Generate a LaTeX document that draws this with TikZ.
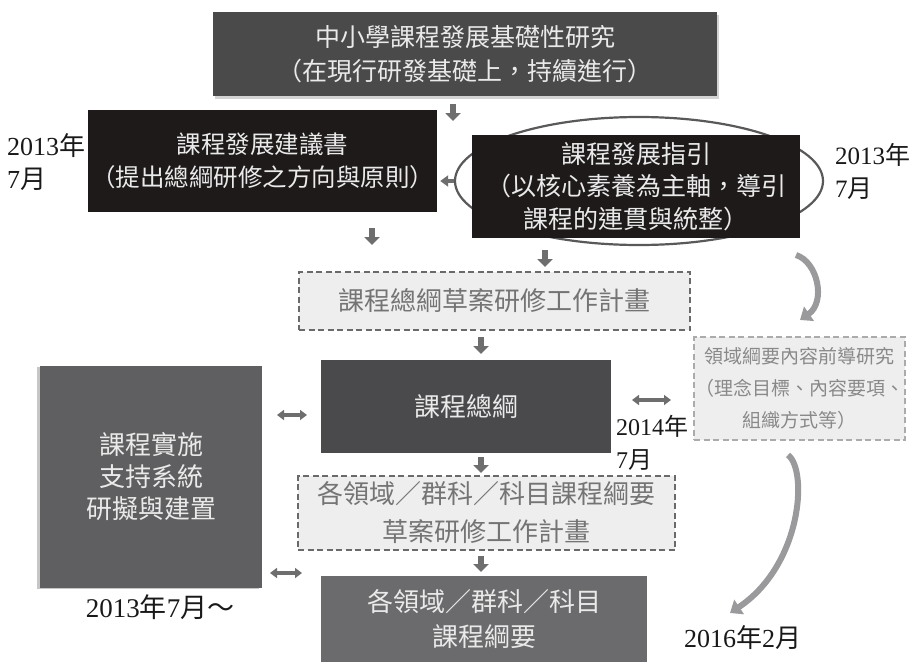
\documentclass[tikz,border=0pt]{standalone}
\usepackage{fontspec}
\setmainfont{Noto Sans CJK TC}
\newfontfamily\tms{Liberation Serif}
\usetikzlibrary{arrows.meta,shapes.geometric,shadows}
\definecolor{topfill}{HTML}{4A4A4A}
\definecolor{blackfill}{HTML}{1E1A1A}
\definecolor{genfill}{HTML}{4A4A4D}
\definecolor{supfill}{HTML}{5F5F61}
\definecolor{domfill}{HTML}{6B6B6D}
\definecolor{boxtext}{HTML}{EAEAEA}
\definecolor{dashtext}{HTML}{747474}
\definecolor{dashline}{HTML}{6A6A6A}
\definecolor{lightdash}{HTML}{ABABAB}
\definecolor{dashfill}{HTML}{EEEEEE}
\definecolor{arrowgray}{HTML}{6E6E6E}
\definecolor{curvegray}{HTML}{9A9A9C}
\begin{document}
\begin{tikzpicture}[x=1pt,y=-1pt,
  darkbox/.style={rectangle, inner sep=0pt, align=center, text=boxtext,
    font={\fontsize{25}{34}\selectfont}},
  dashbox/.style={rectangle, inner sep=0pt, align=center, fill=dashfill,
    draw=dashline, line width=2pt, dash pattern=on 6pt off 3.5pt, text=dashtext,
    font={\fontsize{26}{37}\selectfont}},
  datelbl/.style={inner sep=0pt, align=left, text=black!90,
    font={\fontsize{24}{33}\selectfont}},
  downarr/.style={draw=arrowgray, line width=6pt, -{Triangle[length=8pt,width=15pt]}, arrowgray},
  dblarr/.style={draw=arrowgray, line width=3.5pt, {Triangle[length=7pt,width=10pt]}-{Triangle[length=7pt,width=10pt]}, arrowgray},
  leftarr/.style={draw=arrowgray, line width=4pt, {Triangle[length=8pt,width=11pt]}-, arrowgray},
  curvearr/.style={draw=curvegray, line width=6pt, -{Triangle[length=11pt,width=17pt]}, curvegray}
]
\useasboundingbox (0,0) rectangle (915,669);

% boxes
\node[darkbox, fill=topfill, minimum width=504pt, minimum height=84pt,
  drop shadow={shadow xshift=2pt, shadow yshift=-3pt, opacity=0.35}] (top) at (465,54)
  {中小學課程發展基礎性研究\\（在現行研發基礎上，持續進行）};

\node[darkbox, fill=blackfill, minimum width=349pt, minimum height=102pt,
  font={\fontsize{24.5}{33}\selectfont}] (rec) at (262.5,161)
  {課程發展建議書\\（提出總綱研修之方向與原則）};

\node[draw=black!65, line width=2.2pt, ellipse, minimum width=368pt, minimum height=128pt] (ell) at (639,181) {};

\node[darkbox, fill=blackfill, minimum width=328pt, minimum height=103pt,
  font={\fontsize{25}{32.5}\selectfont}] (guide) at (636,186.5)
  {課程發展指引\\（以核心素養為主軸，導引\\課程的連貫與統整）};

\node[dashbox, minimum width=391pt, minimum height=58pt] (draft1) at (494.5,301)
  {課程總綱草案研修工作計畫};

\node[dashbox, draw=lightdash, text=dashtext!85, minimum width=211pt, minimum height=103pt,
  font={\fontsize{19}{32}\selectfont}] (pre) at (799.5,388.5)
  {領域綱要內容前導研究\\（理念目標、內容要項、\\組織方式等）};

\node[darkbox, fill=genfill, minimum width=290pt, minimum height=93pt,
  font={\fontsize{26}{34}\selectfont}] (gen) at (466,406.5) {課程總綱};

\node[darkbox, fill=supfill, minimum width=222pt, minimum height=222pt,
  font={\fontsize{26}{32}\selectfont},
  drop shadow={shadow xshift=-3pt, shadow yshift=-1pt, opacity=0.45}] (supp) at (151,477)
  {課程實施\\支持系統\\研擬與建置};

\node[dashbox, minimum width=377pt, minimum height=74pt,
  font={\fontsize{26}{38}\selectfont}] (draft2) at (486.5,513)
  {各領域／群科／科目課程綱要\\草案研修工作計畫};

\node[darkbox, fill=domfill, minimum width=326pt, minimum height=86pt,
  font={\fontsize{26}{35}\selectfont}] (dom) at (484,619)
  {各領域／群科／科目\\課程綱要};

% date labels
\node[datelbl, anchor=west, font={\fontsize{26}{33}\selectfont}] (d1) at (7,162) {{\tms 2013}年\\{\tms 7}月};
\node[datelbl, anchor=west, font={\fontsize{25}{33}\selectfont}] (d2) at (835,171) {{\tms 2013}年\\{\tms 7}月};
\node[datelbl, anchor=west] (d3) at (616,443) {{\tms 2014}年\\{\tms 7}月};
\node[datelbl, anchor=center, font={\fontsize{27}{33}\selectfont}] (d4) at (160,607) {{\tms 2013}年{\tms 7}月～};
\node[datelbl, anchor=west, font={\fontsize{26}{33}\selectfont}] (d5) at (684,638) {{\tms 2016}年{\tms 2}月};

% small down arrows
\coordinate (a1s) at (453,104); \coordinate (a1e) at (453,121);
\coordinate (a2s) at (372,228); \coordinate (a2e) at (372,245);
\coordinate (a3s) at (545,250); \coordinate (a3e) at (545,267);
\coordinate (a4s) at (481,337); \coordinate (a4e) at (481,354);
\coordinate (a5s) at (481,457); \coordinate (a5e) at (481,473);
\coordinate (a6s) at (481,556); \coordinate (a6e) at (481,572);
\draw[downarr] (a1s) -- (a1e);
\draw[downarr] (a2s) -- (a2e);
\draw[downarr] (a3s) -- (a3e);
\draw[downarr] (a4s) -- (a4e);
\draw[downarr] (a5s) -- (a5e);
\draw[downarr] (a6s) -- (a6e);

% left arrow between the two top boxes
\draw[leftarr] (rec.east |- 0,181) ++(3,0) coordinate (la1) -- (ell.west |- 0,181) coordinate (la2);

% double arrows
\coordinate (b1s) at (277,415); \coordinate (b1e) at (307,415);
\coordinate (b2s) at (270,573); \coordinate (b2e) at (302,573);
\coordinate (b3s) at (632,400); \coordinate (b3e) at (671,400);
\draw[dblarr] (b1s) -- (b1e);
\draw[dblarr] (b2s) -- (b2e);
\draw[dblarr] (b3s) -- (b3e);

% curved arrows
\coordinate (c1s) at (796,255); \coordinate (c1e) at (800,320);
\draw[curvearr] (c1s) .. controls (818,262) and (826,302) .. (c1e);
\coordinate (c2s) at (788,455); \coordinate (c2e) at (730,613);
\draw[curvearr] (c2s) .. controls (808,470) and (802,565) .. (c2e);
\end{tikzpicture}
\end{document}
